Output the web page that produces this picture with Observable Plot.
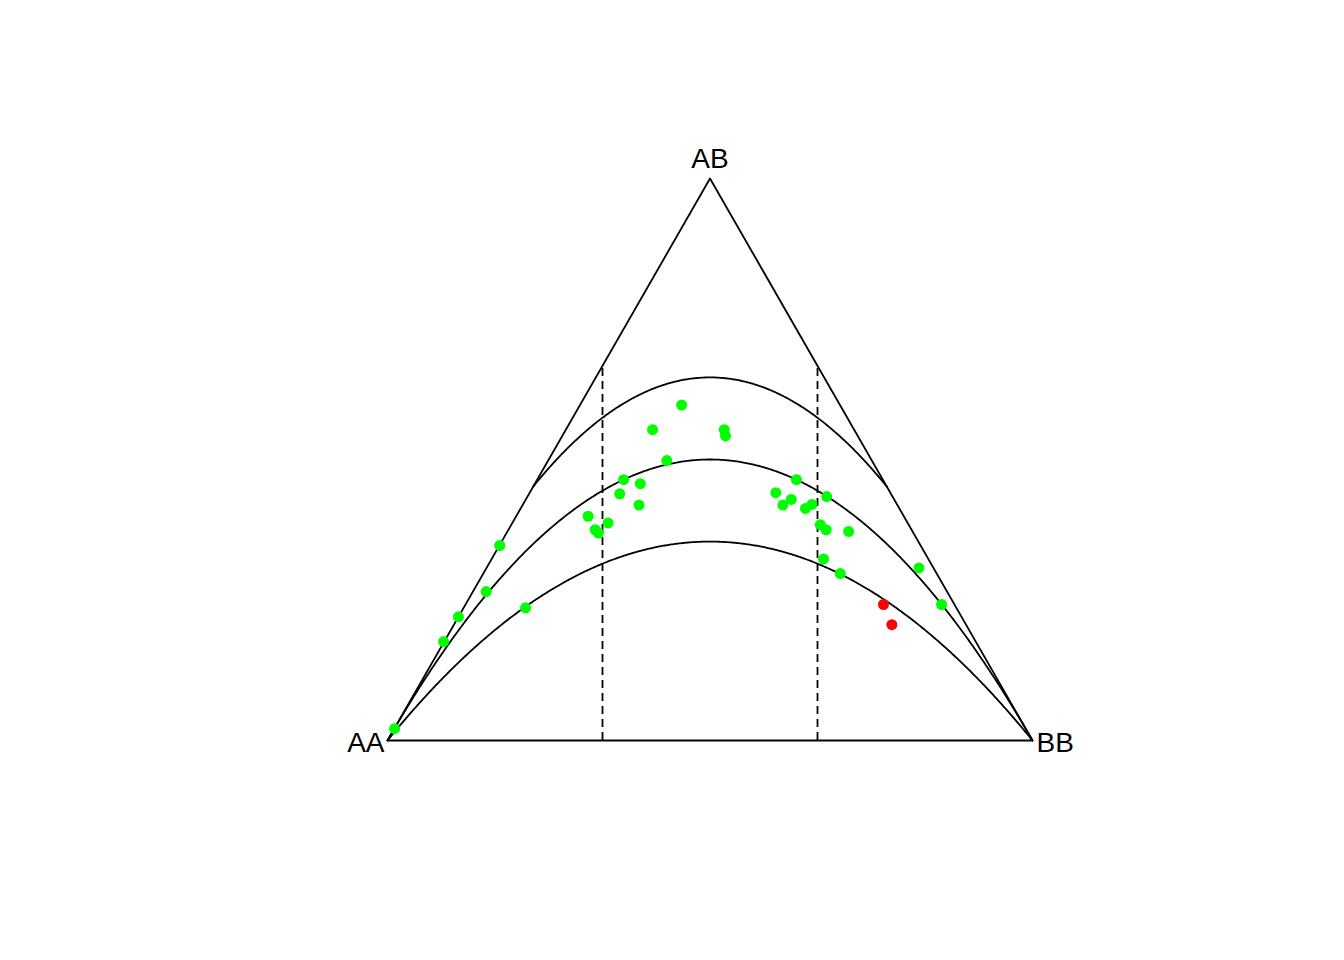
<!DOCTYPE html>
<html>
<head>
<meta charset="utf-8">
<script src="https://cdn.jsdelivr.net/npm/d3@7"></script>
<script src="https://cdn.jsdelivr.net/npm/@observablehq/plot@0.6"></script>
<style>
  html, body { margin: 0; padding: 0; background: #ffffff; }
  #chart svg { display: block; }
</style>
</head>
<body>
<div id="chart"></div>
<script>
// ---- Data ----
// Frequency of allele B for each marker (position along the base)
const alleleB = [
  0.456, 0.411, 0.522, 0.524, 0.433, 0.366, 0.392, 0.360, 0.390, 0.311,
  0.342, 0.322, 0.327, 0.634, 0.602, 0.626, 0.613, 0.658, 0.648, 0.681,
  0.671, 0.680, 0.715, 0.676, 0.702, 0.824, 0.859, 0.769, 0.782, 0.174,
  0.153, 0.110, 0.087, 0.214, 0.011
];
// Observed heterozygote (AB) frequency for each marker
const heteroAB = [
  0.597, 0.553, 0.553, 0.542, 0.498, 0.464, 0.457, 0.439, 0.419, 0.399,
  0.387, 0.375, 0.369, 0.464, 0.441, 0.429, 0.419, 0.420, 0.413, 0.434,
  0.384, 0.375, 0.372, 0.323, 0.297, 0.307, 0.242, 0.242, 0.206, 0.347,
  0.265, 0.220, 0.176, 0.236, 0.021
];
// Significant deviation from HWE (red) or not (green)
const significant = [
  false, false, false, false, false, false, false, false, false, false,
  false, false, false, false, false, false, false, false, false, false,
  false, false, false, false, false, false, false, true, true, false,
  false, false, false, false, false
];
// Triangle vertices (genotype compositions)
const vertexLabels = ["AA", "AB", "BB"];
const vertexAA = [1, 0, 0];
const vertexAB = [0, 1, 0];
const vertexBB = [0, 0, 1];

// Test settings for the acceptance region
const sampleSize = 45;
const chiSqCrit = 3.841;   // chi-square 1 df, alpha = 0.05
const minExpected = 5;     // bound for vertical dashed lines

// ---- Derived tables ----
const points = alleleB.map((p, i) => ({x: p, y: heteroAB[i], sig: significant[i]}));
const vertices = vertexLabels.map((lab, i) => ({
  label: lab,
  x: vertexBB[i] + vertexAB[i] / 2,
  y: vertexAB[i]
}));
const triangle = [vertices[0], vertices[1], vertices[2], vertices[0]];

const F = Math.sqrt(chiSqCrit / sampleSize);
const step = 0.002;
const grid = d3.range(0, 1 + step / 2, step);
const hwCurve = grid.map(x => ({x, y: 2 * x * (1 - x)}));
const lowCurve = grid.map(x => ({x, y: 2 * x * (1 - x) * (1 - F)}));
const xStart = F / (1 + F);
const upXs = [xStart, ...grid.filter(x => x > xStart && x < 1 - xStart), 1 - xStart];
const upCurve = upXs.map(x => ({x, y: 2 * x * (1 - x) * (1 + F)}));
const vb = Math.sqrt(minExpected / sampleSize);
const vlines = [vb, 1 - vb].map(x => ({x, y1: 0, y2: 2 * Math.min(x, 1 - x)}));

const font = "Liberation Sans, Arial, Helvetica, sans-serif";
const lw = 1.8;

const chart = Plot.plot({
  width: 1344,
  height: 960,
  marginLeft: 387,
  marginRight: 312,
  marginTop: 178,
  marginBottom: 220,
  x: {domain: [0, 1], axis: null},
  y: {domain: [0, 1], axis: null},
  style: {background: "#ffffff", fontFamily: font},
  marks: [
    Plot.line(triangle, {x: "x", y: "y", stroke: "#000", strokeWidth: lw}),
    Plot.line(hwCurve, {x: "x", y: "y", stroke: "#000", strokeWidth: lw}),
    Plot.line(lowCurve, {x: "x", y: "y", stroke: "#000", strokeWidth: lw}),
    Plot.line(upCurve, {x: "x", y: "y", stroke: "#000", strokeWidth: lw}),
    Plot.ruleX(vlines, {x: "x", y1: "y1", y2: "y2", stroke: "#000", strokeWidth: lw, strokeDasharray: "8,5"}),
    Plot.dot(points, {x: "x", y: "y", r: 5.5, fill: d => d.sig ? "#ff0000" : "#00ff00", stroke: "none"}),
    Plot.text([vertices[0]], {x: "x", y: "y", text: "label", textAnchor: "end", dx: -3, dy: 3, fontSize: 28, fill: "#000"}),
    Plot.text([vertices[2]], {x: "x", y: "y", text: "label", textAnchor: "start", dx: 4, dy: 3, fontSize: 28, fill: "#000"}),
    Plot.text([vertices[1]], {x: "x", y: "y", text: "label", textAnchor: "middle", dy: -19, fontSize: 28, fill: "#000"})
  ]
});
document.getElementById("chart").appendChild(chart);
</script>
</body>
</html>
